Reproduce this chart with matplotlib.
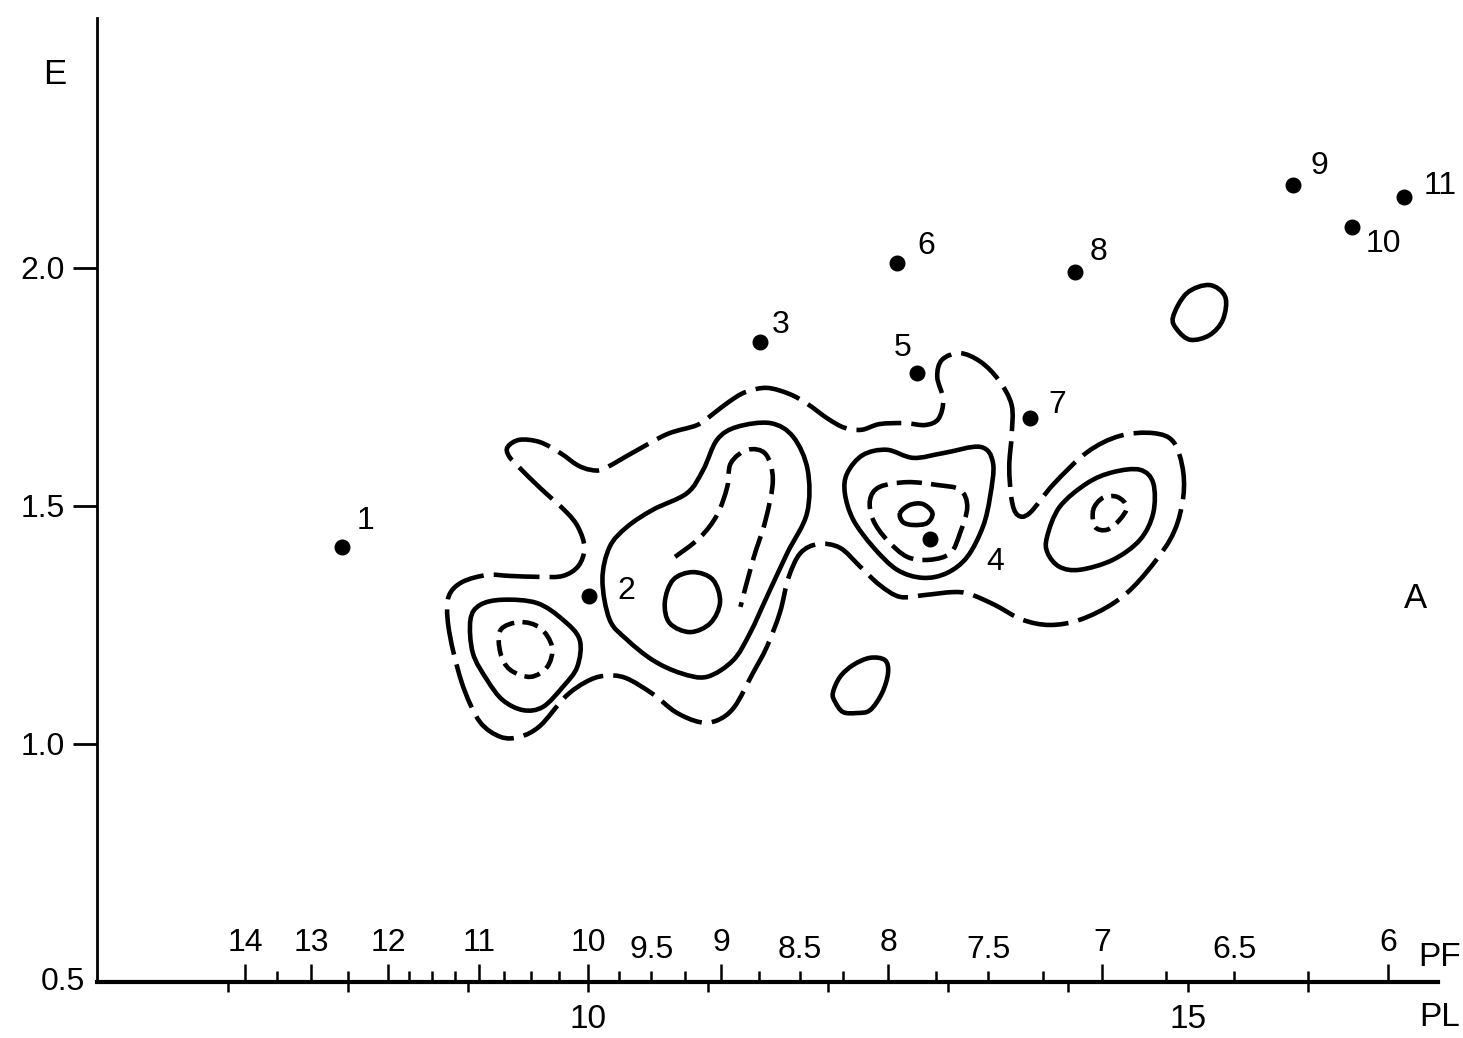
import numpy as np
import matplotlib.pyplot as plt
from matplotlib.path import Path
from matplotlib.patches import PathPatch
from matplotlib.ticker import FixedLocator, FuncFormatter

plt.rcParams['font.family'] = ['Liberation Sans', 'DejaVu Sans']

# numbered points (PL, E)
star_id = ['1', '2', '3', '4', '5', '6', '7', '8', '9', '10', '11']
star_pl = [7.95, 10.01, 11.43, 12.85, 12.74, 12.575, 13.68, 14.06, 15.875, 16.37, 16.80]
star_e = [1.414, 1.31, 1.845, 1.431, 1.779, 2.01, 1.685, 1.992, 2.174, 2.086, 2.149]

# contour outlines, (PL, E)
outer = [(9.33, 1.624), (9.43, 1.639), (9.60, 1.634), (9.77, 1.611), (9.91, 1.586),
         (10.02, 1.576), (10.13, 1.578), (10.38, 1.613), (10.66, 1.651), (10.91, 1.670),
         (11.04, 1.693), (11.17, 1.718), (11.31, 1.739), (11.49, 1.748), (11.68, 1.735),
         (11.83, 1.714), (12.00, 1.683), (12.14, 1.664), (12.28, 1.660), (12.43, 1.672),
         (12.64, 1.674), (12.81, 1.670), (12.92, 1.683), (12.96, 1.723), (12.91, 1.771),
         (12.95, 1.807), (13.10, 1.821), (13.27, 1.803), (13.42, 1.765), (13.53, 1.712),
         (13.53, 1.649), (13.51, 1.582), (13.53, 1.513), (13.58, 1.481), (13.68, 1.485),
         (13.88, 1.546), (14.16, 1.613), (14.43, 1.647), (14.71, 1.653), (14.88, 1.634),
         (14.96, 1.571), (14.95, 1.502), (14.85, 1.429), (14.60, 1.345), (14.38, 1.296),
         (14.10, 1.261), (13.85, 1.250), (13.62, 1.261), (13.39, 1.292), (13.18, 1.315),
         (13.04, 1.319), (12.81, 1.313), (12.60, 1.309), (12.43, 1.334), (12.27, 1.372),
         (12.10, 1.412), (11.92, 1.420), (11.77, 1.401), (11.67, 1.349), (11.60, 1.277),
         (11.49, 1.204), (11.37, 1.147), (11.22, 1.078), (11.08, 1.050), (10.93, 1.046),
         (10.73, 1.067), (10.54, 1.105), (10.31, 1.139), (10.13, 1.143), (9.98, 1.130),
         (9.81, 1.099), (9.60, 1.038), (9.43, 1.015), (9.27, 1.015), (9.10, 1.046),
         (8.97, 1.113), (8.88, 1.191), (8.83, 1.261), (8.84, 1.311), (8.95, 1.340),
         (9.16, 1.355), (9.35, 1.353), (9.60, 1.351), (9.79, 1.353), (9.92, 1.374),
         (9.97, 1.412), (9.92, 1.454), (9.82, 1.487), (9.60, 1.538), (9.43, 1.580),
         (9.34, 1.605)]

left_mid = [(9.02, 1.261), (9.10, 1.292), (9.29, 1.303), (9.575, 1.296), (9.79, 1.261),
            (9.93, 1.219), (9.91, 1.162), (9.79, 1.120), (9.625, 1.078), (9.46, 1.071),
            (9.29, 1.092), (9.16, 1.134), (9.04, 1.191)]
left_in = [(9.27, 1.239), (9.43, 1.256), (9.60, 1.244), (9.70, 1.204), (9.66, 1.162),
           (9.52, 1.141), (9.35, 1.156), (9.27, 1.191)]

centre_mid = [(10.12, 1.345), (10.18, 1.414), (10.325, 1.456), (10.54, 1.492), (10.825, 1.527),
              (10.96, 1.576), (11.075, 1.639), (11.24, 1.666), (11.52, 1.674), (11.71, 1.645),
              (11.83, 1.576), (11.825, 1.485), (11.66, 1.401), (11.49, 1.309), (11.35, 1.233),
              (11.21, 1.176), (10.99, 1.141), (10.77, 1.149), (10.54, 1.176), (10.325, 1.219),
              (10.18, 1.261)]
centre_arc = [(10.725, 1.393), (10.93, 1.433), (11.075, 1.481), (11.16, 1.540), (11.19, 1.590),
              (11.33, 1.618), (11.48, 1.609), (11.54, 1.555), (11.48, 1.471), (11.375, 1.387),
              (11.27, 1.288)]
centre_in = [(10.64, 1.298), (10.71, 1.345), (10.875, 1.361), (11.04, 1.345), (11.10, 1.298),
             (11.02, 1.254), (10.85, 1.235), (10.68, 1.254)]

four_mid = [(12.16, 1.569), (12.29, 1.607), (12.49, 1.618), (12.71, 1.601), (12.96, 1.611),
            (13.27, 1.624), (13.375, 1.590), (13.35, 1.519), (13.29, 1.456), (13.16, 1.393),
            (12.99, 1.359), (12.79, 1.349), (12.575, 1.366), (12.375, 1.414), (12.21, 1.471),
            (12.14, 1.527)]
four_dash = [(12.35, 1.513), (12.43, 1.540), (12.66, 1.550), (12.91, 1.544), (13.10, 1.534),
             (13.16, 1.498), (13.10, 1.443), (13.02, 1.401), (12.85, 1.387), (12.66, 1.393),
             (12.49, 1.429), (12.375, 1.471)]
four_in = [(12.60, 1.485), (12.68, 1.502), (12.79, 1.504), (12.87, 1.485), (12.825, 1.464),
           (12.71, 1.460), (12.625, 1.466)]

right_mid = [(13.825, 1.435), (13.93, 1.498), (14.16, 1.548), (14.375, 1.571), (14.60, 1.576),
             (14.71, 1.548), (14.71, 1.485), (14.60, 1.429), (14.375, 1.387), (14.10, 1.366),
             (13.93, 1.372), (13.83, 1.401)]
right_in = [(14.21, 1.492), (14.29, 1.517), (14.41, 1.519), (14.49, 1.498), (14.43, 1.471),
            (14.325, 1.450), (14.225, 1.456)]

low_isle = [(12.04, 1.107), (12.10, 1.141), (12.21, 1.166), (12.35, 1.181), (12.475, 1.176),
            (12.50, 1.149), (12.45, 1.107), (12.35, 1.071), (12.24, 1.065), (12.125, 1.067),
            (12.06, 1.088)]
high_isle = [(14.875, 1.897), (14.99, 1.947), (15.18, 1.964), (15.31, 1.939), (15.29, 1.891),
             (15.18, 1.859), (15.02, 1.849), (14.91, 1.870)]

pf_major = [14, 13, 12, 11, 10, 9, 8, 7, 6]
pf_minor = [13.5, 12.5, 11.75, 11.5, 11.25, 10.75, 10.5, 10.25, 9.75, 9.5, 9.25,
            8.75, 8.5, 8.25, 7.75, 7.5, 7.25, 6.75, 6.5, 6.25]
pf_minor_labels = {9.5: '9.5', 8.5: '8.5', 7.5: '7.5', 6.5: '6.5'}


def smooth_path(pts, closed=True):
    # Catmull-Rom through the read points, drawn as cubic Bezier pieces
    p = np.asarray(pts, float)
    n = len(p)
    verts = [p[0]]
    codes = [Path.MOVETO]
    segs = range(n) if closed else range(n - 1)
    for i in segs:
        if closed:
            a, b, c, d = p[i - 1], p[i], p[(i + 1) % n], p[(i + 2) % n]
        else:
            a, b = p[max(i - 1, 0)], p[i]
            c, d = p[i + 1], p[min(i + 2, n - 1)]
        verts += [b + (c - a) / 6, c - (d - b) / 6, c]
        codes += [Path.CURVE4] * 3
    return Path(verts, codes)


fig = plt.figure(figsize=(14.63, 10.38), dpi=100)
ax = fig.add_axes([97 / 1463, 56 / 1038, 1341 / 1463, 964 / 1038])

lw = 3.3
long_dash = (0, (10, 2.2))
short_dash = (0, (5.5, 2.0))
tiny_dash = (0, (3.5, 1.8))
styles = [(outer, True, long_dash), (left_mid, True, '-'), (left_in, True, tiny_dash),
          (centre_mid, True, '-'), (centre_arc, False, short_dash), (centre_in, True, '-'),
          (four_mid, True, '-'), (four_dash, True, short_dash), (four_in, True, '-'),
          (right_mid, True, '-'), (right_in, True, tiny_dash),
          (low_isle, True, '-'), (high_isle, True, '-')]
for pts, closed, ls in styles:
    patch = PathPatch(smooth_path(pts, closed), facecolor='none', edgecolor='black',
                      lw=lw, linestyle=ls, capstyle='butt', joinstyle='round')
    ax.add_patch(patch)

ax.plot(star_pl, star_e, 'o', color='black', ms=10.5, zorder=3)
label_off = [(17, 19), (27, 4), (15, 12), (47, -17), (-10, 18), (21, 12),
             (20, 9), (17, 14), (19, 14), (22, -12), (26, 8)]
for s, x, y, off in zip(star_id, star_pl, star_e, label_off):
    ax.annotate(s, (x, y), xytext=off, textcoords='offset points',
                ha='center', va='center', fontsize=23)

ax.set_xlim(5.908, 17.083)
ax.set_ylim(0.5, 2.525)
for side in ['top', 'right']:
    ax.spines[side].set_visible(False)
ax.spines['bottom'].set_linewidth(3)
ax.spines['left'].set_linewidth(2)

ax.set_yticks([1.0, 1.5, 2.0], ['1.0', '1.5', '2.0'])
ax.tick_params(axis='y', direction='out', length=17, width=2, pad=6, labelsize=23)
ax.text(-0.009, 0.5, '0.5', transform=ax.get_yaxis_transform(), ha='right',
        va='center', fontsize=23)

ax.set_xticks([10, 15], ['10', '15'])
ax.set_xticks(range(7, 17), minor=True)
ax.tick_params(axis='x', which='both', direction='out', length=7, width=1.8,
               pad=9, labelsize=24)

pf = ax.secondary_xaxis(0.0, functions=(lambda v: 100 / v, lambda v: 100 / v))
pf.set_alignment('top')
pf.set_xticks(pf_major, [str(v) for v in pf_major])
pf.xaxis.set_minor_locator(FixedLocator(pf_minor))
pf.xaxis.set_minor_formatter(FuncFormatter(lambda v, pos: pf_minor_labels.get(round(v, 2), '')))
pf.tick_params(which='major', direction='out', length=13, width=1.8, pad=4, labelsize=23)
pf.tick_params(which='minor', direction='out', length=8, width=1.8, pad=4, labelsize=23)
for sp in pf.spines.values():
    sp.set_visible(False)

fig.text(55 / 1463, 1 - 75 / 1038, 'E', ha='center', va='center', fontsize=25)
fig.text(1415 / 1463, 1 - 598 / 1038, 'A', ha='center', va='center', fontsize=25)
fig.text(1440 / 1463, 1 - 957 / 1038, 'PF', ha='center', va='center', fontsize=24)
fig.text(1440 / 1463, 1 - 1017 / 1038, 'PL', ha='center', va='center', fontsize=24)

fig.savefig('out.png', dpi=100)
